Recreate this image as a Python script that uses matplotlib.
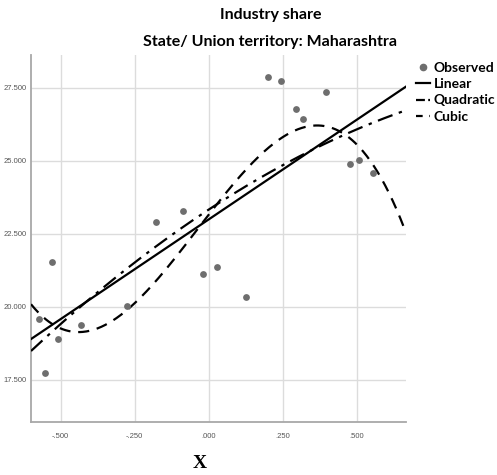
import numpy as np
import matplotlib
matplotlib.use("Agg")
import matplotlib.pyplot as plt
from matplotlib.lines import Line2D
from matplotlib.ticker import FuncFormatter

# Observed industry share (centred time index vs. share, %)
x_obs = [0.200, 0.242, 0.395, 0.293, 0.319, 0.476, 0.507, 0.555,
         -0.087, -0.177, -0.528, -0.574, -0.509, -0.433, -0.552,
         -0.275, -0.019, 0.029, 0.124]
y_obs = [27.89, 27.75, 27.37, 26.78, 26.43, 24.89, 25.04, 24.58,
         23.30, 22.92, 21.53, 19.58, 18.89, 19.38, 17.75,
         20.04, 21.13, 21.37, 20.33]

x_ticks = [-0.5, -0.25, 0.0, 0.25, 0.5]
y_ticks = [17.5, 20.0, 22.5, 25.0, 27.5]
legend_labels = ["Observed", "Linear", "Quadratic", "Cubic"]

x_obs = np.array(x_obs)
y_obs = np.array(y_obs)

fig = plt.figure(figsize=(4.97, 4.75), dpi=100)
ax = fig.add_axes([0.0624, 0.1116, 0.7545, 0.7726])

xlim = (-0.6, 0.665)
ylim = (16.06, 28.63)
xs = np.linspace(xlim[0], xlim[1], 400)

fits = {}
for deg in (1, 2, 3):
    fits[deg] = np.polyval(np.polyfit(x_obs, y_obs, deg), xs)

ax.scatter(x_obs, y_obs, s=24, color="#6e6e6e", zorder=4, linewidths=0)
ax.plot(xs, fits[1], color="black", lw=1.6, zorder=3)
ax.plot(xs, fits[2], color="black", lw=1.6, dashes=(7, 3, 1.5, 3), zorder=3)
ax.plot(xs, fits[3], color="black", lw=1.6, dashes=(5, 3.5), zorder=3)

ax.set_xlim(*xlim)
ax.set_ylim(*ylim)
ax.set_xticks(x_ticks)
ax.set_yticks(y_ticks)

def fmt_x(v, _):
    s = f"{v:.3f}"
    return s.replace("0.", ".", 1)

ax.xaxis.set_major_formatter(FuncFormatter(fmt_x))
ax.yaxis.set_major_formatter(FuncFormatter(lambda v, _: f"{v:.3f}"))
ax.tick_params(axis="x", length=0, labelsize=5.5, labelcolor="#555555", pad=8)
ax.tick_params(axis="y", length=0, labelsize=5.5, labelcolor="#555555", pad=3)
for lab in ax.get_xticklabels() + ax.get_yticklabels():
    lab.set_family("Liberation Sans")

ax.grid(True, color="#dcdcdc", lw=1.0)
ax.set_axisbelow(True)
for side in ("top", "right"):
    ax.spines[side].set_visible(False)
for side in ("left", "bottom"):
    ax.spines[side].set_color("#a8a8a8")
    ax.spines[side].set_linewidth(1.3)

fig.text(0.545, 0.968, "Industry share", ha="center", va="center",
         fontsize=11.5, fontweight="bold", family="Lato")
fig.text(0.544, 0.911, "State/ Union territory: Maharashtra", ha="center",
         va="center", fontsize=11.5, fontweight="bold", family="Lato")
fig.text(0.402, 0.025, "X", ha="center", va="center", fontsize=14,
         fontweight="bold", family="Liberation Serif")

handles = [
    Line2D([], [], ls="none", marker="o", ms=4.5, color="#6e6e6e"),
    Line2D([], [], color="black", lw=1.6),
    Line2D([], [], color="black", lw=1.6, dashes=(4, 1.5, 1.2, 1.5)),
    Line2D([], [], color="black", lw=1.6, dashes=(3, 3)),
]
leg = fig.legend(handles, legend_labels, loc="upper left",
                 bbox_to_anchor=(0.832, 0.875), frameon=False,
                 handlelength=1.0, handletextpad=0.25, labelspacing=0.3,
                 borderaxespad=0, borderpad=0.2,
                 prop={"family": "Lato", "weight": "bold", "size": 10})

fig.savefig("out.png", dpi=100)
